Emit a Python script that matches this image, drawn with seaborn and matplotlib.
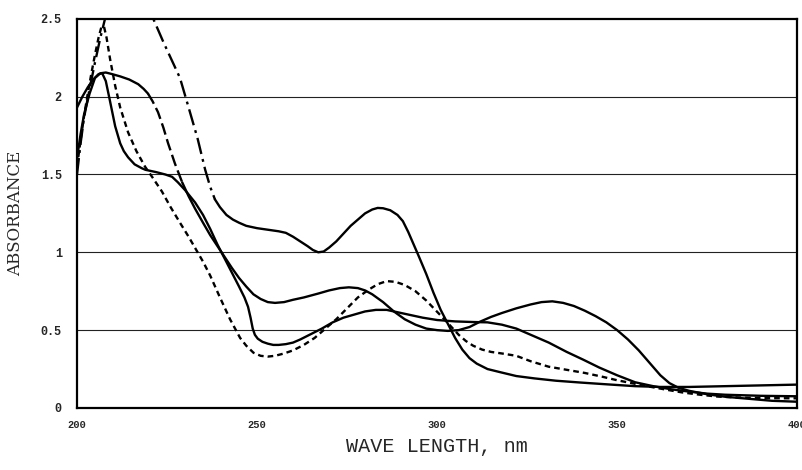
import numpy as np
import pandas as pd
import matplotlib
matplotlib.use("Agg")
import matplotlib.pyplot as plt
import seaborn as sns

# ---- data (wavelength nm, absorbance) ----
# curve C: dash-dot at short wavelengths, solid afterwards (goes off-scale near 210-220)
c_wl = [200, 201, 202, 203.5, 205, 206.5, 208, 211, 215, 218, 221, 224, 226.4,
        228.6, 231, 233.5, 235.6, 237, 238.3, 239.7, 241.5, 243.3, 245, 247,
        250, 253, 256, 258, 260, 262, 264, 265.5, 267, 268.5, 270, 272, 274,
        276, 278, 280, 282, 283.5, 285, 287, 289, 290.5, 292, 293.5, 295, 297,
        299, 301, 303, 305, 307, 309, 311, 314, 317.5, 322, 327, 333, 340, 347,
        355, 362, 370, 380, 390, 400]
c_abs = [1.50, 1.70, 1.87, 2.05, 2.22, 2.38, 2.52, 2.70, 2.78, 2.68, 2.51, 2.35,
         2.23, 2.12, 1.93, 1.73, 1.53, 1.42, 1.34, 1.29, 1.24, 1.21, 1.19, 1.17,
         1.155, 1.145, 1.135, 1.125, 1.10, 1.07, 1.04, 1.015, 1.00, 1.005, 1.03,
         1.07, 1.12, 1.17, 1.21, 1.25, 1.275, 1.285, 1.283, 1.27, 1.24, 1.20,
         1.13, 1.05, 0.97, 0.86, 0.74, 0.63, 0.54, 0.45, 0.375, 0.32, 0.285,
         0.25, 0.23, 0.205, 0.19, 0.175, 0.163, 0.152, 0.14, 0.135, 0.135, 0.14,
         0.145, 0.15]
c_solid_from = 238.3

# curve D: short dashes
d_wl = [200, 201, 202, 203, 204, 205, 206, 206.8, 207.5, 208.2, 209.2, 210.6,
        212, 214.2, 216.5, 218.9, 221, 223.6, 226, 228.6, 231, 233, 235, 237,
        239.7, 242.5, 245.3, 247, 249, 251, 253, 255, 257.5, 260, 263, 266, 269,
        272, 275, 278, 281, 283.5, 286, 288.5, 291, 294, 297, 299.5, 302, 304,
        306, 308, 310, 312.5, 315, 318, 322, 326, 331, 336, 341, 346, 350, 355,
        359, 364, 368, 373, 378, 385, 392, 400]
d_abs = [1.55, 1.72, 1.88, 2.02, 2.15, 2.27, 2.38, 2.45, 2.45, 2.38, 2.24, 2.07,
         1.93, 1.77, 1.65, 1.55, 1.48, 1.39, 1.29, 1.19, 1.10, 1.02, 0.94, 0.85,
         0.71, 0.57, 0.45, 0.40, 0.355, 0.335, 0.33, 0.335, 0.35, 0.37, 0.405,
         0.45, 0.51, 0.57, 0.64, 0.71, 0.76, 0.795, 0.815, 0.81, 0.79, 0.75, 0.69,
         0.63, 0.57, 0.52, 0.47, 0.43, 0.40, 0.375, 0.36, 0.35, 0.335, 0.30,
         0.265, 0.245, 0.225, 0.20, 0.178, 0.155, 0.137, 0.116, 0.10, 0.085,
         0.073, 0.066, 0.063, 0.062]

# curve A: solid, narrow first peak, sharp drop near 249 nm
a_wl = [200, 201.5, 203, 204.5, 206, 207, 208, 209, 210.6, 212, 213, 214.2, 216,
        218, 219, 222, 224.5, 226.4, 228, 230, 232.8, 235, 237, 239, 241, 243,
        245, 246.5, 247.5, 248.2, 248.8, 249.4, 250.2, 251.5, 253, 254.5, 256,
        258, 260, 262, 265, 268, 271, 274, 277, 280, 283, 286, 289, 292, 296,
        300, 305, 310, 314, 318, 322, 326, 331, 336, 340.6, 345, 350, 355, 360,
        365, 370, 375, 380, 390, 400]
a_abs = [1.93, 2.00, 2.06, 2.11, 2.145, 2.15, 2.10, 1.99, 1.81, 1.70, 1.65, 1.61,
         1.565, 1.54, 1.53, 1.515, 1.50, 1.485, 1.45, 1.40, 1.32, 1.24, 1.15,
         1.05, 0.96, 0.87, 0.78, 0.71, 0.65, 0.58, 0.51, 0.47, 0.445, 0.425,
         0.413, 0.405, 0.405, 0.41, 0.42, 0.44, 0.475, 0.51, 0.55, 0.58, 0.60,
         0.62, 0.63, 0.63, 0.615, 0.60, 0.58, 0.565, 0.556, 0.552, 0.55, 0.535,
         0.51, 0.47, 0.42, 0.36, 0.31, 0.26, 0.21, 0.165, 0.14, 0.12, 0.105,
         0.092, 0.085, 0.078, 0.075]

# curve B: solid, broad first peak, band at 332 nm (looks dashed 220-229 nm)
b_wl = [200, 201, 202, 203.5, 205, 206.5, 208, 209.7, 212, 214.5, 217, 218.5,
        219.7, 221, 222.5, 224, 225.3, 227.2, 229.2, 231, 232.8, 235, 237, 239,
        241, 243, 245, 247, 249, 251, 253, 255, 257.5, 260, 263, 267, 270, 273,
        275.5, 278, 280, 282, 285, 288, 291, 294, 297, 300, 303, 306, 309, 312,
        315, 318, 322, 326, 329, 332, 335, 338, 341, 344, 347, 350, 353, 356,
        359, 362, 364.5, 367, 370, 375, 380, 387, 393, 400]
b_abs = [1.60, 1.76, 1.89, 2.02, 2.12, 2.15, 2.155, 2.145, 2.13, 2.11, 2.08,
         2.05, 2.02, 1.97, 1.90, 1.80, 1.70, 1.57, 1.45, 1.36, 1.28, 1.19, 1.11,
         1.04, 0.97, 0.90, 0.835, 0.78, 0.73, 0.70, 0.68, 0.675, 0.68, 0.695,
         0.71, 0.735, 0.755, 0.77, 0.775, 0.77, 0.755, 0.73, 0.68, 0.62, 0.57,
         0.535, 0.51, 0.50, 0.495, 0.50, 0.52, 0.555, 0.585, 0.61, 0.64, 0.665,
         0.68, 0.685, 0.675, 0.655, 0.625, 0.59, 0.55, 0.50, 0.44, 0.37, 0.29,
         0.21, 0.16, 0.13, 0.11, 0.088, 0.072, 0.058, 0.046, 0.04]
b_dash_range = (219.7, 229.2)

x_ticks = [200, 250, 300, 350, 400]
y_ticks = [0, 0.5, 1, 1.5, 2, 2.5]
y_tick_labels = ["0", "0.5", "1", "1.5", "2", "2.5"]

# ---- drawing ----
sns.set_theme(style="white")
plt.rcParams["font.family"] = ["Liberation Mono", "DejaVu Sans Mono"]

fig = plt.figure(figsize=(8.02, 4.70), dpi=100)
ax = fig.add_axes([0.096, 0.132, 0.898, 0.828])

lw = 1.7
kw = dict(ax=ax, color="black", lw=lw, sort=False, estimator=None)

c_df = pd.DataFrame({"wl": c_wl, "abs": c_abs})
sns.lineplot(data=c_df[c_df.wl <= c_solid_from], x="wl", y="abs",
             linestyle=(0, (7, 2.2, 1.2, 2.2)), **kw)
sns.lineplot(data=c_df[c_df.wl >= c_solid_from], x="wl", y="abs", **kw)

sns.lineplot(x=d_wl, y=d_abs, linestyle=(0, (2.4, 1.7)), **kw)

sns.lineplot(x=a_wl, y=a_abs, **kw)

b_df = pd.DataFrame({"wl": b_wl, "abs": b_abs})
lo, hi = b_dash_range
sns.lineplot(data=b_df[b_df.wl <= lo], x="wl", y="abs", **kw)
sns.lineplot(data=b_df[(b_df.wl >= lo) & (b_df.wl <= hi)], x="wl", y="abs",
             linestyle=(0, (5, 2)), **kw)
sns.lineplot(data=b_df[b_df.wl >= hi], x="wl", y="abs", **kw)

for ln in ax.get_lines():
    ln.set_solid_joinstyle("round")
    ln.set_solid_capstyle("round")

ax.set_xlim(200, 400)
ax.set_ylim(0, 2.5)
ax.set_xticks(x_ticks)
ax.set_xticklabels([str(t) for t in x_ticks], fontsize=7.5, fontweight="bold")
ax.set_yticks(y_ticks)
ax.set_yticklabels(y_tick_labels, fontsize=8.5, fontweight="bold")
ax.tick_params(axis="both", length=0)
ax.tick_params(axis="x", pad=9)
ax.tick_params(axis="y", pad=11)

for g in [0.5, 1, 1.5, 2]:
    ax.axhline(g, color="#222222", lw=0.8, zorder=0)

for s in ax.spines.values():
    s.set_visible(True)
    s.set_color("black")
    s.set_linewidth(1.6)

ax.set_xlabel("WAVE LENGTH, nm", fontsize=14.5, labelpad=5)
ax.set_ylabel("ABSORBANCE", fontsize=12, labelpad=12,
              family=["DejaVu Serif"])

fig.savefig("out.png", dpi=100, facecolor="white")
